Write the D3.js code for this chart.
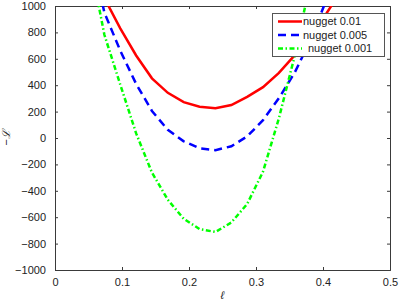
<!DOCTYPE html>
<html>
<head>
<meta charset="utf-8">
<script src="https://cdn.jsdelivr.net/npm/d3@7"></script>
<style>
  body { margin: 0; background: #fff; }
  svg { display: block; font-family: "Liberation Sans", Arial, sans-serif; }
</style>
</head>
<body>
<div id="chart"></div>
<script>
// length scale grid (x values)
const ell = [0.05, 0.0737, 0.0974, 0.1211, 0.1447, 0.1684, 0.1921, 0.2158, 0.2395, 0.2632,
             0.2868, 0.3105, 0.3342, 0.3579, 0.3816, 0.4053, 0.4289];

// negative log-likelihood for each nugget
const nugget01  = [1600, 1060, 830, 625, 452, 342, 272, 237, 226, 250, 312, 385, 493, 628, 790, 945, 1130];
const nugget005 = [1500, 950, 662, 410, 205, 62, -25, -78, -92, -63, 12, 135, 302, 497, 745, 1050, 1350];
const nugget001 = [1400, 782, 405, 35, -262, -468, -612, -690, -712, -640, -500, -255, 150, 625, 1195, 1800, 2400];

const seriesNames = ["nugget 0.01", "nugget 0.005", "nugget 0.001"];
const xTicks = [0, 0.1, 0.2, 0.3, 0.4, 0.5];
const yTicks = [-1000, -800, -600, -400, -200, 0, 200, 400, 600, 800, 1000];

const width = 399, height = 303;
const margin = { top: 6, right: 9, bottom: 33, left: 55 };

const svg = d3.select("#chart").append("svg")
    .attr("width", width)
    .attr("height", height);

const x = d3.scaleLinear().domain([0, 0.5]).range([margin.left, width - margin.right]);
const y = d3.scaleLinear().domain([-1000, 1000]).range([height - margin.bottom, margin.top]);

const axisColor = "#3a3a3a";

// clip so curves stay inside the box
svg.append("clipPath").attr("id", "plot-clip")
    .append("rect")
    .attr("x", x(0)).attr("y", y(1000))
    .attr("width", x(0.5) - x(0)).attr("height", y(-1000) - y(1000));

// Axes (ticks pointing inward, like octave)
const tickLen = 3;
const bottomAxis = d3.axisBottom(x).tickValues(xTicks).tickSize(-tickLen).tickPadding(8)
    .tickFormat(d => d === 0 ? "0" : d3.format(".1f")(d));
const leftAxis = d3.axisLeft(y).tickValues(yTicks).tickSize(-tickLen).tickPadding(9).tickFormat(d3.format("d"));

function styleAxis(g) {
    g.select(".domain").attr("stroke", axisColor);
    g.selectAll(".tick line").attr("stroke", axisColor);
    g.selectAll("text").attr("fill", "#222").style("font-size", "11px");
}

svg.append("g").attr("transform", `translate(0,${y(-1000)})`).call(bottomAxis).call(styleAxis);
svg.append("g").attr("transform", `translate(${x(0)},0)`).call(leftAxis).call(styleAxis);
svg.append("g").attr("transform", `translate(0,${y(1000)})`)
    .call(d3.axisTop(x).tickValues(xTicks).tickSize(-tickLen).tickFormat(""))
    .call(styleAxis);
svg.append("g").attr("transform", `translate(${x(0.5)},0)`)
    .call(d3.axisRight(y).tickValues(yTicks).tickSize(-tickLen).tickFormat(""))
    .call(styleAxis);

// axis labels
svg.append("text")
    .attr("x", x(0.25)).attr("y", 299)
    .attr("text-anchor", "middle")
    .style("font-size", "11px").style("font-style", "italic").attr("fill", "#222")
    .text("ℓ");

svg.append("text")
    .attr("transform", `translate(10,${y(0)}) rotate(-90)`)
    .attr("text-anchor", "middle")
    .style("font-size", "11px").style("font-style", "italic").attr("fill", "#222")
    .text("−ℒ");

// curves
const series = [
    { name: seriesNames[0], values: nugget01, color: "#ff0000", dash: null },
    { name: seriesNames[1], values: nugget005, color: "#0000ff", dash: "8,5" },
    { name: seriesNames[2], values: nugget001, color: "#00ff00", dash: "5,2.5,1.5,2.5" }
];

const line = d3.line()
    .x((d, i) => x(ell[i]))
    .y(d => y(d));

svg.append("g").attr("clip-path", "url(#plot-clip)")
    .selectAll("path")
    .data(series)
    .join("path")
    .attr("d", d => line(d.values))
    .attr("fill", "none")
    .attr("stroke", d => d.color)
    .attr("stroke-width", 2.5)
    .attr("stroke-dasharray", d => d.dash);

// legend
const legend = svg.append("g").attr("class", "legend");
legend.append("rect")
    .attr("x", 272.5).attr("y", 13.5)
    .attr("width", 112).attr("height", 43)
    .attr("fill", "#fff")
    .attr("stroke", "#555");

const rowY = [21.5, 35, 48.5];
const textX = [303, 303, 308];
series.forEach((s, i) => {
    legend.append("line")
        .attr("x1", 278).attr("x2", 302)
        .attr("y1", rowY[i]).attr("y2", rowY[i])
        .attr("stroke", s.color)
        .attr("stroke-width", 2.5)
        .attr("stroke-dasharray", s.dash);
    legend.append("text")
        .attr("x", textX[i]).attr("y", rowY[i])
        .attr("dy", "0.35em")
        .style("font-size", "11px")
        .attr("fill", "#222")
        .text(s.name);
});
</script>
</body>
</html>
